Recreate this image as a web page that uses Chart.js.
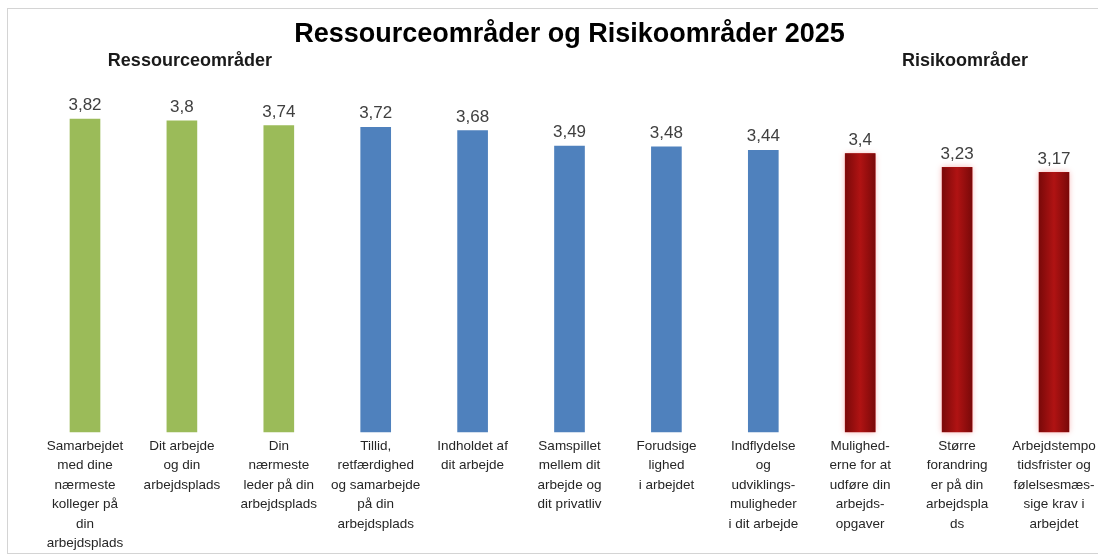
<!DOCTYPE html>
<html>
<head>
<meta charset="utf-8">
<script src="https://cdn.jsdelivr.net/npm/chart.js@4.4.1/dist/chart.umd.min.js"></script>
<style>
  html, body { margin: 0; padding: 0; background: #fff; }
  #wrap { width: 1098px; height: 560px; }
</style>
</head>
<body>
<div id="wrap"><canvas id="barChart" width="1098" height="560"></canvas></div>
<script>
// categories (line-broken like the original)
const categories = [
    ['Samarbejdet', 'med dine', 'nærmeste', 'kolleger på', 'din', 'arbejdsplads'],
    ['Dit arbejde', 'og din', 'arbejdsplads'],
    ['Din', 'nærmeste', 'leder på din', 'arbejdsplads'],
    ['Tillid,', 'retfærdighed', 'og samarbejde', 'på din', 'arbejdsplads'],
    ['Indholdet af', 'dit arbejde'],
    ['Samspillet', 'mellem dit', 'arbejde og', 'dit privatliv'],
    ['Forudsige', 'lighed', 'i arbejdet'],
    ['Indflydelse', 'og', 'udviklings-', 'muligheder', 'i dit arbejde'],
    ['Mulighed-', 'erne for at', 'udføre din', 'arbejds-', 'opgaver'],
    ['Større', 'forandring', 'er på din', 'arbejdspla', 'ds'],
    ['Arbejdstempo', 'tidsfrister og', 'følelsesmæs-', 'sige krav i', 'arbejdet']
];
const scores = [3.82, 3.8, 3.74, 3.72, 3.68, 3.49, 3.48, 3.44, 3.4, 3.23, 3.17];
const groups = ['res', 'res', 'res', 'mid', 'mid', 'mid', 'mid', 'mid', 'risk', 'risk', 'risk'];
const groupColors = { res: '#9bbb59', mid: '#4f81bd', risk: '#9e0c0c' };
const chartTitle = 'Ressourceområder og Risikoområder 2025';
const groupHeads = [
    { text: 'Ressourceområder', at: 1 },
    { text: 'Risikoområder', at: 9 }
];

const FONT = "'Liberation Sans', Arial, sans-serif";
Chart.defaults.font.family = FONT;

const fmt = v => String(v).replace('.', ',');

const decoPlugin = {
    id: 'deco',
    beforeDraw(chart) {
        const c = chart.ctx;
        c.save();
        c.fillStyle = '#fff';
        c.fillRect(0, 0, chart.width, chart.height);
        c.strokeStyle = '#d4d4d4';
        c.lineWidth = 1;
        c.strokeRect(7.5, 8.5, 1200, 545);
        c.restore();
    },
    afterDatasetsDraw(chart) {
        const c = chart.ctx;
        const meta = chart.getDatasetMeta(0);
        c.save();
        // red bars get a shaded look
        meta.data.forEach((bar, i) => {
            if (groups[i] !== 'risk') return;
            const w = bar.width, left = bar.x - w / 2;
            const g = c.createLinearGradient(left, 0, left + w, 0);
            g.addColorStop(0, '#7a0909');
            g.addColorStop(0.5, '#b01313');
            g.addColorStop(1, '#7a0909');
            c.shadowColor = 'rgba(230,40,40,0.35)';
            c.shadowBlur = 6;
            c.fillStyle = g;
            c.fillRect(left, bar.y, w, bar.base - bar.y);
        });
        c.shadowBlur = 0;
        // value labels
        c.fillStyle = '#404040';
        c.font = '17px ' + FONT;
        c.textAlign = 'center';
        c.textBaseline = 'bottom';
        meta.data.forEach((bar, i) => {
            c.fillText(fmt(scores[i]), bar.x, bar.y - 5);
        });
        // group headings
        const xs = chart.scales.x;
        c.fillStyle = '#1a1a1a';
        c.font = 'bold 18px ' + FONT;
        c.textBaseline = 'middle';
        groupHeads.forEach(h => {
            c.fillText(h.text, xs.getPixelForValue(h.at) + 8, 61);
        });
        c.restore();
    }
};

new Chart(document.getElementById('barChart'), {
    type: 'bar',
    data: {
        labels: categories,
        datasets: [{
            data: scores,
            backgroundColor: groups.map(g => groupColors[g]),
            barThickness: 30,
            borderWidth: 0,
            clip: false
        }]
    },
    options: {
        responsive: false,
        animation: false,
        layout: { padding: { left: 85, right: 44, top: 0, bottom: 0 } },
        plugins: {
            legend: { display: false },
            tooltip: { enabled: false },
            title: {
                display: true,
                text: chartTitle,
                color: '#000',
                font: { size: 27, weight: 'bold', family: FONT },
                padding: { top: 18, bottom: 13 }
            }
        },
        scales: {
            x: {
                offset: false,
                grid: { display: false },
                border: { display: false },
                ticks: {
                    autoSkip: false,
                    maxRotation: 0,
                    padding: -4,
                    color: '#262626',
                    font: { size: 13.5, lineHeight: 1.45 }
                },
                afterFit(scale) { scale.height = 128; }
            },
            y: {
                display: false,
                min: 0,
                max: 4.5
            }
        }
    },
    plugins: [decoPlugin]
});
</script>
</body>
</html>
